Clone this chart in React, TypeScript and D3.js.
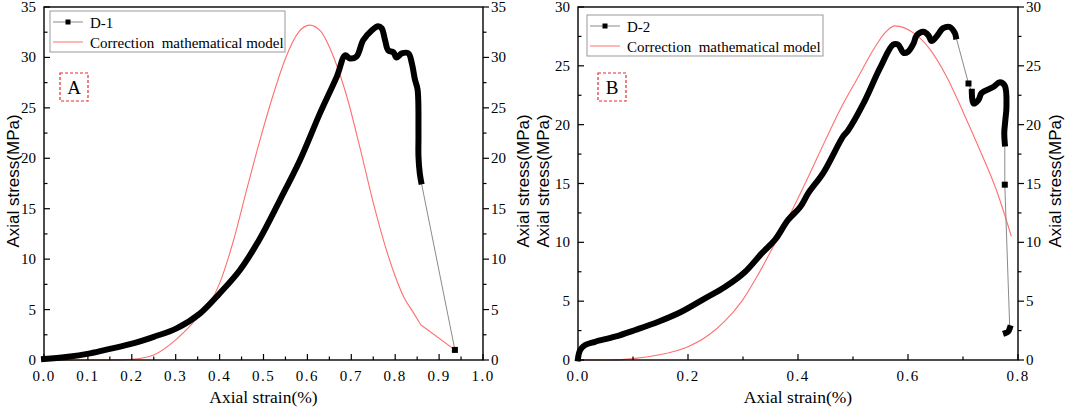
import * as d3 from 'd3';

// D-1 test curve (strain %, stress MPa)
const d1Curve: [number, number][] = [
  [0, 0.1], [0.05, 0.3], [0.105, 0.66], [0.15, 1.1], [0.203, 1.65], [0.25, 2.3],
  [0.302, 3.14], [0.355, 4.6], [0.4, 6.6], [0.446, 8.9], [0.49, 11.9], [0.538, 15.9],
  [0.583, 19.8], [0.629, 24.5], [0.667, 28.1], [0.686, 30.2], [0.697, 29.9], [0.712, 30.1],
  [0.727, 31.7], [0.747, 32.7], [0.761, 33.1], [0.769, 32.9], [0.777, 31.7], [0.784, 30.7],
  [0.796, 30.5], [0.803, 30.0], [0.815, 30.4], [0.83, 30.4], [0.838, 29.4], [0.845, 27.8],
  [0.851, 26.8], [0.853, 22.5], [0.853, 20.2], [0.856, 18.5], [0.859, 17.7],
];
const d1Points: [number, number][] = [[0.936, 1.0]];
const d1Model: [number, number][] = [
  [0, 0], [0.15, 0], [0.2, 0.07], [0.25, 0.5], [0.3, 2.0], [0.35, 4.2], [0.38, 5.8],
  [0.4, 7.6], [0.43, 11.6], [0.46, 16.6], [0.49, 21.5], [0.52, 26.0], [0.55, 29.9],
  [0.58, 32.5], [0.605, 33.2], [0.63, 32.6], [0.66, 30.0], [0.69, 26.1], [0.72, 21.0],
  [0.75, 15.6], [0.78, 10.9], [0.8, 8.3], [0.82, 6.2], [0.84, 4.8], [0.858, 3.5],
];
const d1ModelTail: [number, number][] = [[0.858, 3.5], [0.936, 1.0]];

// D-2 test curve, in three dense runs with isolated points between
const d2Curve1: [number, number][] = [
  [0, 0.14], [0.004, 0.85], [0.013, 1.27], [0.031, 1.55], [0.067, 1.98], [0.104, 2.55],
  [0.146, 3.25], [0.188, 4.1], [0.231, 5.24], [0.267, 6.2], [0.304, 7.5], [0.334, 9.06],
  [0.358, 10.2], [0.382, 11.9], [0.404, 13.0], [0.419, 14.2], [0.446, 15.9], [0.482, 19.0],
  [0.491, 19.5], [0.519, 21.8], [0.549, 24.8], [0.573, 26.8], [0.582, 26.8], [0.592, 26.1],
  [0.6, 26.2], [0.61, 26.9], [0.616, 27.6], [0.628, 27.9], [0.637, 27.6], [0.643, 27.1],
  [0.652, 27.5], [0.664, 28.2], [0.676, 28.3], [0.685, 27.8], [0.687, 27.5],
];
const d2Curve2: [number, number][] = [
  [0.716, 22.8], [0.719, 21.8], [0.728, 22.1], [0.734, 22.7], [0.755, 23.2], [0.767, 23.6],
  [0.776, 23.3], [0.779, 21.5], [0.777, 20.4], [0.775, 19.3], [0.776, 18.4],
];
const d2Curve3: [number, number][] = [[0.785, 2.7], [0.782, 2.4], [0.778, 2.3]];
const d2PointA: [number, number] = [0.71, 23.5];
const d2PointB: [number, number] = [0.776, 14.9];
const d2Model: [number, number][] = [
  [0, 0], [0.06, 0], [0.104, 0.14], [0.146, 0.42], [0.2, 1.13], [0.237, 2.1], [0.267, 3.3],
  [0.298, 5.0], [0.328, 7.3], [0.358, 9.9], [0.389, 12.7], [0.419, 15.6], [0.449, 18.6],
  [0.479, 21.5], [0.51, 24.1], [0.54, 26.6], [0.558, 27.8], [0.576, 28.4], [0.61, 27.8],
  [0.64, 26.4], [0.67, 24.1], [0.701, 21.0], [0.731, 17.8], [0.761, 14.4], [0.788, 10.5],
];

const serif = '"Liberation Serif", "Times New Roman", serif';
const sans = '"Liberation Sans", Arial, sans-serif';
const red = '#ff6f6f';

interface PanelProps {
  box: { l: number; r: number; t: number; b: number };
  xMax: number;
  yMax: number;
  xStep: number;
  dense: [number, number][][];
  path: [number, number][];
  points: [number, number][];
  model: [number, number][][];
  legend: { x: number; y: number; w: number; label: string };
  tag: { x: number; y: number; text: string };
  leftTitleX: number;
  rightTitleX: number;
}

function Panel({ box, xMax, yMax, xStep, dense, path, points, model, legend, tag, leftTitleX, rightTitleX }: PanelProps) {
  const x = d3.scaleLinear().domain([0, xMax]).range([box.l, box.r]);
  const y = d3.scaleLinear().domain([0, yMax]).range([box.b, box.t]);
  const line = d3.line<[number, number]>().x(d => x(d[0])).y(d => y(d[1]));
  const smooth = d3.line<[number, number]>().x(d => x(d[0])).y(d => y(d[1])).curve(d3.curveMonotoneX);
  const thick = d3.line<[number, number]>().x(d => x(d[0])).y(d => y(d[1])).curve(d3.curveCatmullRom.alpha(0.5));

  const xMajor = d3.range(0, xMax + 1e-9, xStep);
  const xMinor = d3.range(xStep / 2, xMax, xStep);
  const yMajor = d3.range(0, yMax + 1e-9, 5);
  const yMinor = d3.range(2.5, yMax, 5);
  const midY = 181;

  return (
    <g>
      {/* model curve */}
      {model.map((seg, i) => (
        <path key={i} d={smooth(seg) ?? ''} fill="none" stroke={red} strokeWidth={1.1} />
      ))}
      {/* connecting thin line */}
      <path d={line(path) ?? ''} fill="none" stroke="#8a8a8a" strokeWidth={1} />
      {dense.map((seg, i) => (
        <path key={i} d={thick(seg) ?? ''} fill="none" stroke="#000" strokeWidth={6}
          strokeLinejoin="round" strokeLinecap="square" />
      ))}
      {points.map((p, i) => (
        <rect key={i} x={x(p[0]) - 3} y={y(p[1]) - 3} width={6} height={6} fill="#000" />
      ))}

      {/* frame */}
      <rect x={box.l} y={box.t} width={box.r - box.l} height={box.b - box.t} fill="none" stroke="#000" strokeWidth={1.4} />

      {/* bottom ticks (inward) */}
      {xMajor.map(v => (
        <g key={'xm' + v}>
          <line x1={x(v)} x2={x(v)} y1={box.b} y2={box.b - 6} stroke="#000" strokeWidth={1.2} />
          <text x={x(v)} y={381} textAnchor="middle" fontFamily={serif} fontSize={15} letterSpacing={1.5}>
            {d3.format('.1f')(v)}
          </text>
        </g>
      ))}
      {xMinor.map(v => (
        <line key={'xn' + v} x1={x(v)} x2={x(v)} y1={box.b} y2={box.b - 3.5} stroke="#000" strokeWidth={1.2} />
      ))}

      {/* left ticks (inward), right ticks (outward) */}
      {yMajor.map(v => (
        <g key={'ym' + v}>
          <line x1={box.l} x2={box.l + 6} y1={y(v)} y2={y(v)} stroke="#000" strokeWidth={1.2} />
          <line x1={box.r} x2={box.r + 6} y1={y(v)} y2={y(v)} stroke="#000" strokeWidth={1.2} />
          <text x={box.l - 8} y={y(v) + 5} textAnchor="end" fontFamily={serif} fontSize={15}>{v}</text>
          <text x={box.r + 8} y={y(v) + 5} textAnchor="start" fontFamily={serif} fontSize={15}>{v}</text>
        </g>
      ))}
      {yMinor.map(v => (
        <g key={'yn' + v}>
          <line x1={box.l} x2={box.l + 3.5} y1={y(v)} y2={y(v)} stroke="#000" strokeWidth={1.2} />
          <line x1={box.r} x2={box.r + 3.5} y1={y(v)} y2={y(v)} stroke="#000" strokeWidth={1.2} />
        </g>
      ))}

      {/* axis titles */}
      <text x={(box.l + box.r) / 2} y={403} textAnchor="middle" fontFamily={serif} fontSize={17.5}>Axial strain(%)</text>
      <text transform={`translate(${leftTitleX},${midY}) rotate(-90)`} textAnchor="middle" fontFamily={sans} fontSize={17}>Axial stress(MPa)</text>
      <text transform={`translate(${rightTitleX},${midY}) rotate(-90)`} textAnchor="middle" fontFamily={sans} fontSize={17}>Axial stress(MPa)</text>

      {/* legend */}
      <rect x={legend.x} y={legend.y} width={legend.w} height={41} fill="#fff" stroke="#999" strokeWidth={1} />
      <line x1={legend.x + 3} x2={legend.x + 33} y1={legend.y + 11} y2={legend.y + 11} stroke="#8a8a8a" strokeWidth={1} />
      <rect x={legend.x + 15.5} y={legend.y + 8.5} width={5} height={5} fill="#000" />
      <text x={legend.x + 40} y={legend.y + 17} fontFamily={serif} fontSize={15}>{legend.label}</text>
      <line x1={legend.x + 3} x2={legend.x + 33} y1={legend.y + 31} y2={legend.y + 31} stroke={red} strokeWidth={1} />
      <text x={legend.x + 40} y={legend.y + 37} fontFamily={serif} fontSize={15} style={{ whiteSpace: 'pre' }}>
        {'Correction  mathematical model'}
      </text>

      {/* panel tag */}
      <rect x={tag.x} y={tag.y} width={28} height={28} fill="none" stroke="#e8292f" strokeWidth={1.2} strokeDasharray="3,2" />
      <text x={tag.x + 14} y={tag.y + 21} textAnchor="middle" fontFamily={serif} fontSize={19}>{tag.text}</text>
    </g>
  );
}

export default function App() {
  return (
    <svg width={1065} height={412} style={{ position: 'absolute', left: 0, top: 0, background: '#fff' }}>
      <Panel
        box={{ l: 44, r: 483, t: 7, b: 360 }}
        xMax={1.0}
        yMax={35}
        xStep={0.1}
        dense={[d1Curve]}
        path={[...d1Curve, ...d1Points]}
        points={d1Points}
        model={[d1Model, d1ModelTail]}
        legend={{ x: 50, y: 11, w: 235, label: 'D-1' }}
        tag={{ x: 60, y: 73, text: 'A' }}
        leftTitleX={19}
        rightTitleX={529}
      />
      <Panel
        box={{ l: 578, r: 1018, t: 7, b: 360 }}
        xMax={0.8}
        yMax={30}
        xStep={0.2}
        dense={[d2Curve1, d2Curve2, d2Curve3]}
        path={[...d2Curve1, d2PointA, ...d2Curve2, d2PointB, ...d2Curve3]}
        points={[d2PointA, d2PointB]}
        model={[d2Model]}
        legend={{ x: 587, y: 15, w: 236, label: 'D-2' }}
        tag={{ x: 598, y: 73, text: 'B' }}
        leftTitleX={549}
        rightTitleX={1061}
      />
    </svg>
  );
}
